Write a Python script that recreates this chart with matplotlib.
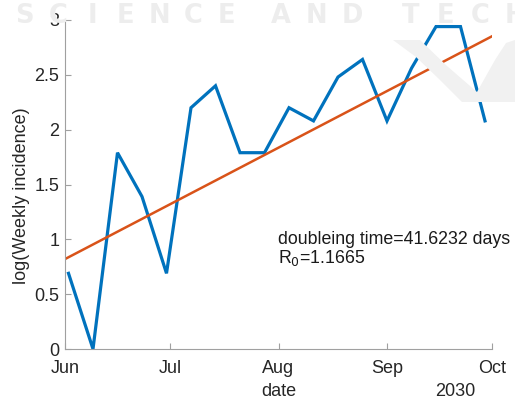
import datetime as dt
import numpy as np
import matplotlib
matplotlib.use("Agg")
import matplotlib.pyplot as plt
import matplotlib.dates as mdates
from matplotlib.patches import Polygon
from matplotlib.ticker import FuncFormatter

# Weekly observations (log of weekly incidence)
week_start = dt.date(2030, 6, 2)
log_incidence = [0.69, 0.00, 1.79, 1.39, 0.69, 2.20, 2.40, 1.79, 1.79,
                 2.20, 2.08, 2.48, 2.64, 2.08, 2.56, 2.94, 2.94, 2.08]
dates = [week_start + dt.timedelta(days=7 * i) for i in range(len(log_incidence))]

# Exponential growth fit (straight line on log scale)
fit_dates = [dt.date(2030, 6, 1), dt.date(2030, 10, 1)]
doubling_time = 41.6232
R0 = 1.1665
fit_start = 0.82
fit_span_days = (fit_dates[1] - fit_dates[0]).days
fit_values = [fit_start, fit_start + np.log(2) / doubling_time * fit_span_days]

month_ticks = [dt.date(2030, m, 1) for m in range(6, 11)]
y_ticks = [0, 0.5, 1, 1.5, 2, 2.5, 3]

W, H = 515, 399
plt.rcParams["font.family"] = ["Liberation Sans", "DejaVu Sans"]
fig = plt.figure(figsize=(W / 100, H / 100), dpi=100)


def fx(px):
    return px / W


def fy(py):
    return 1 - py / H


# faint publisher watermark behind the chart
wm_words = ["SCIENCE", "AND", "TECH"]
wm_starts = [8, 263, 393]
wm_slot = [33.6, 35.7, 35.0]
for word, x0, slot in zip(wm_words, wm_starts, wm_slot):
    for i, ch in enumerate(word):
        fig.text(fx(x0 + slot * (i + 0.5)), fy(23), ch, fontsize=18.5,
                 fontweight="bold", color="#ededed", ha="center",
                 va="baseline", zorder=0, family="DejaVu Sans")
logo_px = [(393, 40), (420, 40), (447, 66), (477, 92), (495, 60), (506, 43),
           (515, 40), (515, 102), (462, 102), (440, 80), (416, 57)]
logo = Polygon([(fx(x), fy(y)) for x, y in logo_px], closed=True,
               transform=fig.transFigure, facecolor="#f1f1f1",
               edgecolor="none", zorder=0)
fig.patches.append(logo)

ax = fig.add_axes([fx(65), fy(349), fx(492 - 65), (349 - 20) / H])
ax.patch.set_alpha(0)

ax.plot(dates, log_incidence, color="#0072BD", lw=2.3, solid_joinstyle="miter")
ax.plot(fit_dates, fit_values, color="#D95319", lw=1.8)

ax.set_xlim(month_ticks[0], month_ticks[-1])
ax.set_ylim(0, 3)
ax.set_xticks(month_ticks)
ax.xaxis.set_major_formatter(mdates.DateFormatter("%b"))
ax.set_yticks(y_ticks)
ax.yaxis.set_major_formatter(FuncFormatter(lambda v, p: f"{v:g}"))

for side in ("top", "right"):
    ax.spines[side].set_visible(False)
for side in ("left", "bottom"):
    ax.spines[side].set_color("#a0a0a0")
    ax.spines[side].set_linewidth(0.8)
ax.tick_params(direction="in", length=4, width=0.8, color="#a0a0a0",
               labelsize=13, labelcolor="#262626")
ax.tick_params(axis="x", pad=8)
ax.tick_params(axis="y", pad=4)

ax.set_ylabel("log(Weekly incidence)", fontsize=13, color="#262626", va="center")
ax.yaxis.set_label_coords(-(65 - 22) / (492 - 65), 1 - (196 - 20) / (349 - 20))
ax.set_xlabel("date", fontsize=13, color="#262626", va="center")
ax.xaxis.set_label_coords(0.5, -(391 - 349) / (349 - 20))
fig.text(fx(475), fy(391), "2030", ha="right", va="center",
         fontsize=13, color="#262626")

fig.text(fx(278), fy(244), f"doubleing time={doubling_time} days",
         fontsize=12.8, color="#1a1a1a", ha="left", va="baseline")
fig.text(fx(278), fy(263), f"R$_0$={R0}",
         fontsize=12.8, color="#1a1a1a", ha="left", va="baseline")

fig.savefig("out.png", dpi=100)
